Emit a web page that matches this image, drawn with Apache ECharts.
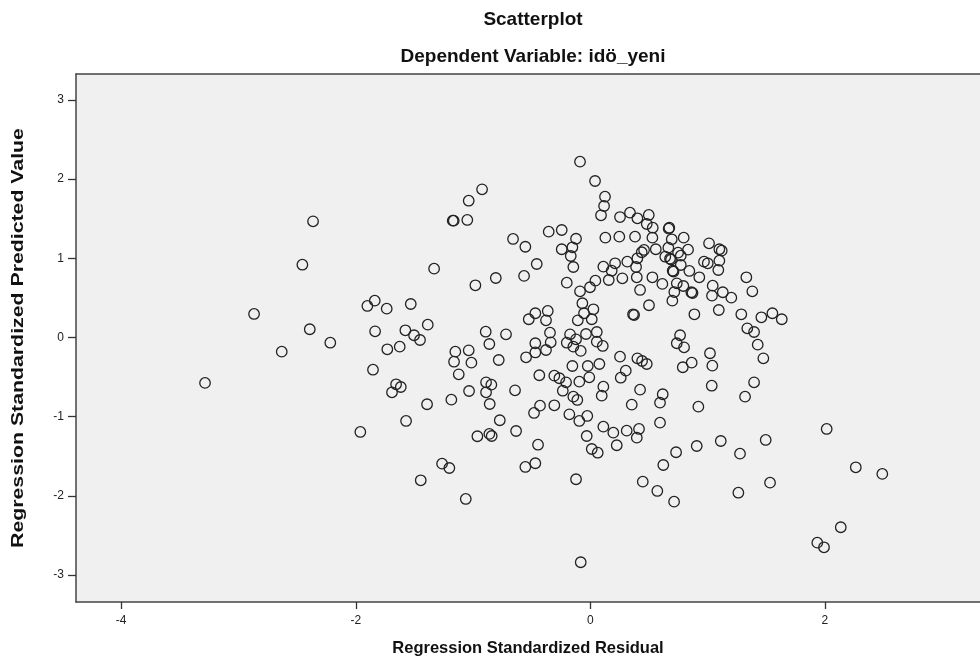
<!DOCTYPE html>
<html>
<head>
<meta charset="utf-8">
<script src="https://cdn.jsdelivr.net/npm/echarts@6/dist/echarts.min.js"></script>
<style>html,body{margin:0;padding:0;background:#fff;}#c{width:980px;height:671px;}</style>
</head>
<body>
<div id="c"></div>
<script>
// Tick labels
const xTicks = [-4, -2, 0, 2];
const yTicks = [-3, -2, -1, 0, 1, 2, 3];

// Points [standardized residual, standardized predicted value], grouped by region
const upperLeft = [
  [-0.923,1.871],[-1.037,1.727],[-1.173,1.475],[-1.165,1.475],[-1.049,1.484],[-2.364,1.467],
  [-0.659,1.244],[-0.554,1.146],[-2.455,0.919],[-1.332,0.869],[-0.980,0.659],[-0.806,0.751],
  [-0.565,0.777],[-2.867,0.297],[-1.838,0.465],[-1.901,0.398],[-1.736,0.364],[-1.531,0.423],
  [-0.525,0.230],[-2.392,0.104],[-2.217,-0.066],[-2.631,-0.179],[-1.835,0.078],[-1.577,0.091],
  [-1.503,0.028],[-1.452,-0.032],[-1.386,0.162],[-1.731,-0.149],[-1.625,-0.116],[-0.892,0.073],
  [-0.719,0.040],[-0.861,-0.082],[-1.151,-0.179],[-1.037,-0.162],[-0.469,-0.189]
];
const lowerLeft = [
  [-3.285,-0.574],[-1.853,-0.407],[-1.162,-0.306],[-1.014,-0.318],[-0.781,-0.284],[-0.548,-0.250],
  [-1.122,-0.465],[-1.656,-0.591],[-1.616,-0.625],[-1.691,-0.692],[-0.889,-0.566],[-0.844,-0.596],
  [-1.034,-0.676],[-0.889,-0.692],[-0.642,-0.667],[-1.392,-0.843],[-1.185,-0.785],[-0.858,-0.840],
  [-0.480,-0.953],[-1.571,-1.054],[-0.772,-1.045],[-1.961,-1.193],[-0.963,-1.247],[-0.861,-1.218],
  [-0.841,-1.244],[-0.633,-1.181],[-1.264,-1.593],[-1.202,-1.648],[-1.446,-1.803],[-0.554,-1.635],
  [-1.062,-2.039]
];
const upperRight = [
  [-0.088,2.220],[0.040,1.976],[0.125,1.778],[0.117,1.660],[0.091,1.543],[0.253,1.521],[0.338,1.576],
  [0.401,1.505],[0.498,1.547],[0.481,1.433],[0.532,1.386],[0.673,1.386],[0.668,1.374],[-0.355,1.336],
  [-0.244,1.357],[-0.122,1.247],[0.128,1.260],[0.247,1.273],[0.381,1.273],[0.529,1.260],[0.694,1.240],
  [0.796,1.260],[1.012,1.189],[1.100,1.114],[1.120,1.096],[-0.244,1.114],[-0.153,1.139],[-0.167,1.029],
  [-0.457,0.928],[-0.145,0.890],[0.458,1.105],[0.438,1.076],[0.558,1.114],[0.665,1.134],[0.748,1.071],
  [0.833,1.109],[0.639,1.020],[0.679,0.995],[0.688,0.985],[0.771,1.033],[0.401,1.000],[0.315,0.957],
  [0.211,0.937],[0.111,0.894],[0.390,0.890],[0.182,0.843],[0.969,0.957],[1.001,0.937],[1.100,0.970],
  [1.091,0.852],[0.771,0.915],[0.702,0.843],[0.709,0.833],[0.844,0.840],[0.929,0.760],[0.157,0.726],
  [0.273,0.747],[0.396,0.760],[0.529,0.760],[0.614,0.676],[-0.201,0.692],[-0.088,0.583],[-0.003,0.634],
  [0.043,0.717],[0.424,0.600],[0.737,0.684],[0.793,0.650],[0.716,0.574],[0.861,0.571],[0.871,0.562],
  [1.043,0.654],[1.037,0.528],[1.129,0.571],[1.202,0.503],[1.330,0.760],[1.381,0.583],[0.699,0.465],
  [-0.068,0.432],[0.500,0.407],[0.364,0.293],[0.373,0.284],[0.887,0.293],[1.095,0.347],[1.287,0.293],
  [1.458,0.255],[1.552,0.306],[1.632,0.230],[-0.469,0.306],[-0.363,0.335],[-0.378,0.217],[-0.054,0.306],
  [0.026,0.356],[-0.107,0.217],[0.012,0.230],[-0.344,0.061],[-0.469,-0.073],[-0.338,-0.061],[-0.378,-0.158],
  [-0.173,0.040],[-0.037,0.044],[0.055,0.069],[-0.201,-0.066],[-0.122,-0.023],[-0.145,-0.116],[-0.082,-0.170],
  [0.055,-0.053],[0.106,-0.107],[1.338,0.116],[1.396,0.069],[1.427,-0.091],[0.765,0.028],[0.737,-0.073],
  [0.799,-0.124],[1.020,-0.199]
];
const lowerRight = [
  [0.253,-0.242],[0.401,-0.263],[0.441,-0.297],[0.481,-0.335],[0.077,-0.335],[-0.153,-0.360],[-0.022,-0.360],
  [-0.435,-0.477],[-0.307,-0.482],[-0.264,-0.515],[-0.207,-0.566],[-0.094,-0.558],[-0.009,-0.503],[0.302,-0.419],
  [0.259,-0.508],[0.864,-0.318],[0.788,-0.376],[1.040,-0.356],[1.475,-0.263],[-0.235,-0.672],[-0.145,-0.747],
  [-0.111,-0.789],[0.111,-0.621],[0.097,-0.735],[0.424,-0.659],[0.617,-0.717],[0.594,-0.823],[1.035,-0.609],
  [1.396,-0.566],[1.319,-0.747],[-0.429,-0.861],[-0.307,-0.856],[-0.179,-0.970],[-0.094,-1.054],[-0.026,-0.991],
  [0.353,-0.848],[0.921,-0.874],[0.111,-1.126],[0.196,-1.202],[0.310,-1.177],[0.415,-1.155],[0.396,-1.265],
  [0.594,-1.076],[-0.031,-1.244],[-0.446,-1.354],[0.225,-1.361],[0.012,-1.408],[0.063,-1.455],[-0.469,-1.588],
  [0.731,-1.449],[0.622,-1.610],[0.907,-1.370],[1.112,-1.307],[1.276,-1.467],[1.495,-1.294],[2.015,-1.155],
  [2.263,-1.639],[2.489,-1.723],[-0.122,-1.790],[0.447,-1.821],[0.571,-1.938],[0.714,-2.073],[1.262,-1.960],
  [1.532,-1.833],[2.135,-2.396],[1.935,-2.591],[1.992,-2.649],[-0.082,-2.838]
];

const points = upperLeft.concat(lowerLeft, upperRight, lowerRight);
const FONT = "'Liberation Sans', Arial, sans-serif";
const yTitle = 'Regression Standardized Predicted Value';
const X_MIN = -4.385, X_MAX = 3.322, Y_MIN = -3.340, Y_MAX = 3.327;

const chart = echarts.init(document.getElementById('c'), null, {renderer: 'canvas'});
chart.setOption({
  backgroundColor: '#ffffff',
  animation: false,
  title: [
    {text: 'Scatterplot', left: 528, top: 5, textAlign: 'center',
     textStyle: {fontFamily: FONT, fontWeight: 'bold', fontSize: 19, color: '#111'}},
    {text: 'Dependent Variable: idö_yeni', left: 528, top: 42, textAlign: 'center',
     textStyle: {fontFamily: FONT, fontWeight: 'bold', fontSize: 19, color: '#111'}}
  ],
  graphic: [{
    type: 'text', x: 18, y: 338, rotation: Math.PI / 2, scaleX: 1.29, silent: true,
    style: {text: yTitle, font: "bold 16.5px 'Liberation Sans', Arial, sans-serif",
            fill: '#111', align: 'center', verticalAlign: 'middle'}
  }],
  grid: {left: 76, right: 0, top: 74, bottom: 69, show: true,
         backgroundColor: '#f0f0f0', borderWidth: 0},
  xAxis: [{
    type: 'value', min: X_MIN, max: X_MAX, position: 'bottom',
    splitLine: {show: false},
    axisLine: {show: true, onZero: false, lineStyle: {color: '#444', width: 1.5}},
    axisTick: {show: true, customValues: xTicks, length: 7, lineStyle: {color: '#333', width: 1.3}},
    axisLabel: {customValues: xTicks, margin: 13, fontFamily: FONT, fontSize: 12, color: '#222'},
    name: 'Regression Standardized Residual', nameLocation: 'middle', nameGap: 38,
    nameTextStyle: {fontFamily: FONT, fontWeight: 'bold', fontSize: 16.5, color: '#111'}
  }, {
    type: 'value', min: X_MIN, max: X_MAX, position: 'top',
    splitLine: {show: false},
    axisLine: {show: true, onZero: false, lineStyle: {color: '#444', width: 1.5}},
    axisTick: {show: false}, axisLabel: {show: false}
  }],
  yAxis: {
    type: 'value', min: Y_MIN, max: Y_MAX,
    splitLine: {show: false},
    axisLine: {show: true, onZero: false, lineStyle: {color: '#444', width: 1.5}},
    axisTick: {show: true, customValues: yTicks, length: 8, lineStyle: {color: '#333', width: 1.3}},
    axisLabel: {customValues: yTicks, margin: 12, fontFamily: FONT, fontSize: 12, color: '#222'}
  },
  series: [{
    type: 'scatter',
    xAxisIndex: 0,
    data: points,
    symbol: 'circle',
    symbolSize: 10.5,
    itemStyle: {color: 'rgba(0,0,0,0)', borderColor: '#222', borderWidth: 1.3, opacity: 1}
  }]
});
</script>
</body>
</html>
